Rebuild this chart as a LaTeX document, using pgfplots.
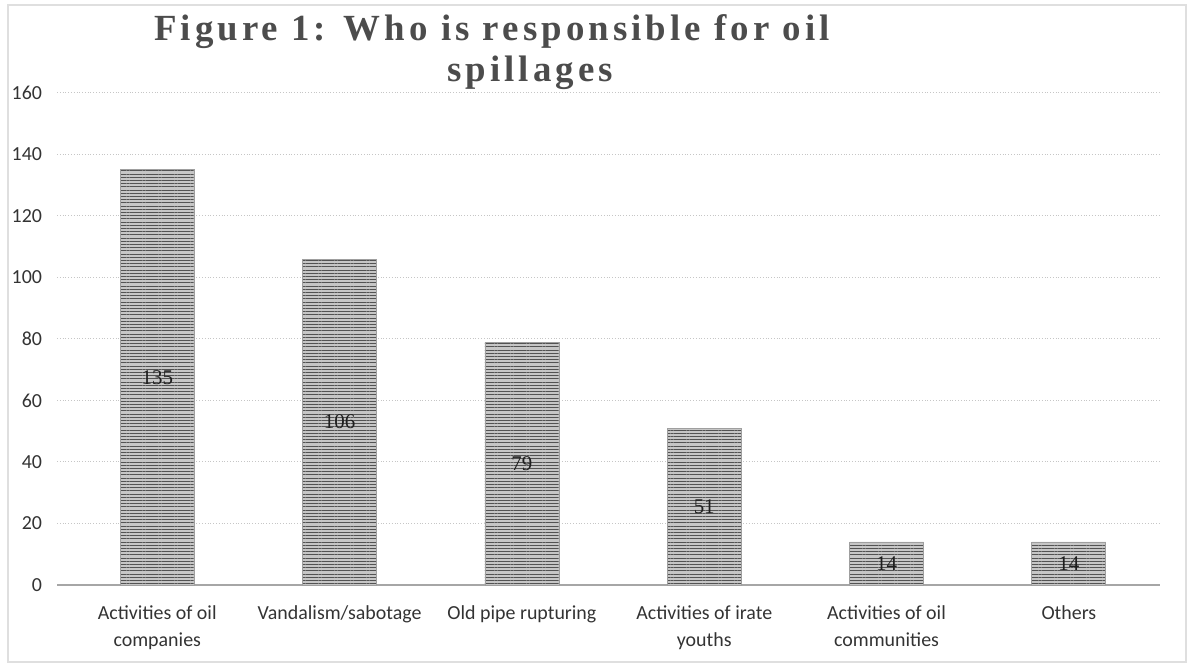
\documentclass[border=0pt]{standalone}
\usepackage{fontspec}
\usepackage{pgfplots}
\pgfplotsset{compat=1.18}
\usetikzlibrary{patterns.meta}
\setmainfont{Carlito}
\newfontfamily\titlefont[LetterSpace=11]{Liberation Serif}
\newfontfamily\valfont{Liberation Serif}
\begin{document}
\begin{tikzpicture}
\path (0,0) rectangle (596bp,333.5bp);
\draw[gray!25, line width=0.6bp] (4bp,2.5bp) rectangle (593bp,331bp);
\begin{axis}[
  at={(28.5bp,41bp)}, anchor=south west,
  scale only axis, width=551.5bp, height=246bp,
  xmin=-0.55, xmax=5.5, ymin=0, ymax=160,
  ytick={0,20,...,160},
  xtick={0,1,2,3,4,5},
  xticklabels={Activities of oil\\companies, Vandalism/sabotage, Old pipe rupturing, Activities of irate\\youths, Activities of oil\\communities, Others},
  xticklabel style={align=center, font=\fontsize{10}{13.5}\selectfont, text=black!80, yshift=-7bp},
  yticklabel style={font=\fontsize{10}{12}\selectfont, text=black!80, xshift=-4bp},
  major tick length=0pt,
  axis x line*=bottom, axis y line*=left,
  y axis line style={draw=none},
  x axis line style={gray!70, line width=1bp},
  ymajorgrids, grid style={gray!45, densely dotted, line width=0.5bp},
  /pgf/number format/assume math mode=true,
  ybar, bar width=37bp,
  clip=false,
]
\addplot[draw=gray!75, fill=gray!45, postaction={pattern={Lines[angle=0, distance=1.6bp, line width=0.5bp]}, pattern color=gray!65!black},
  nodes near coords,
  visualization depends on={rawy \as \rawy},
  every node near coord/.append style={anchor=center, shift={(axis direction cs:0,-\rawy/2)}, font=\valfont\fontsize{10.5}{12}\selectfont, text=black!88}]
coordinates {(0,135) (1,106) (2,79) (3,51) (4,14) (5,14)};
\end{axis}
\node[font=\titlefont\bfseries\fontsize{18.5}{20}\selectfont, text=black!70] at (246bp,317.5bp) {Figure 1: Who is responsible for oil};
\node[font=\titlefont\bfseries\fontsize{18.5}{20}\selectfont, text=black!70] at (265bp,297bp) {spillages};
\end{tikzpicture}
\end{document}
